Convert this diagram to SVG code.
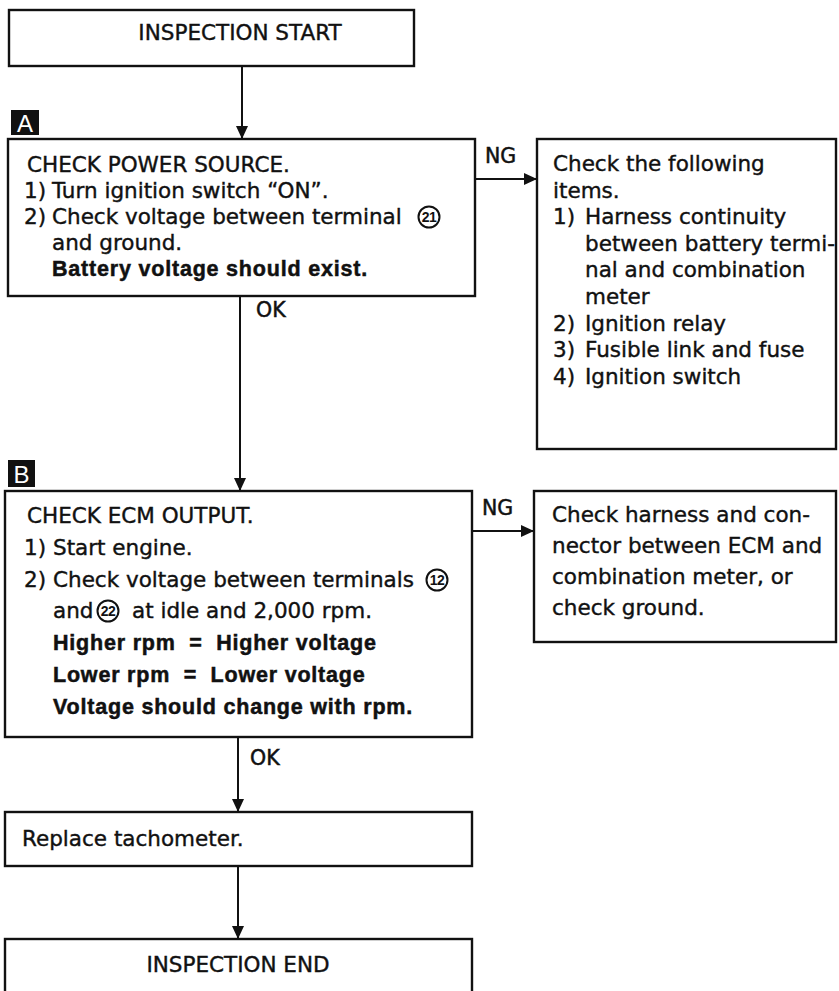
<svg xmlns="http://www.w3.org/2000/svg" width="839" height="991" viewBox="0 0 839 991">
  <style>
    .box { fill: #ffffff; stroke: #111; stroke-width: 2.4; }
    .t { font-family: "DejaVu Sans", "Liberation Sans", sans-serif; font-size: 21.5px; fill: #111; stroke: #111; stroke-width: 0.4; }
    .b { font-family: "Liberation Sans", Arial, sans-serif; font-size: 21.5px; font-weight: bold; fill: #111; stroke: #111; stroke-width: 0.5; letter-spacing: 0.8px; white-space: pre; }
    .lbl { font-family: "DejaVu Sans", "Liberation Sans", sans-serif; font-size: 20.5px; fill: #111; stroke: #111; stroke-width: 0.5; }
    .tag { fill: #111; }
    .tagtxt { font-family: "Liberation Sans", Arial, sans-serif; font-size: 24px; fill: #fff; }
    .conn { stroke: #111; stroke-width: 2; fill: none; }
    .circ { fill: none; stroke: #111; stroke-width: 2; }
    .num { font-family: "Liberation Sans", Arial, sans-serif; font-size: 14px; font-weight: bold; fill: #111; letter-spacing: -0.5px; }
  </style>
  <defs>
    <marker id="arrow" viewBox="0 0 13 12" refX="13" refY="6" markerWidth="13" markerHeight="12" markerUnits="userSpaceOnUse" orient="auto">
      <path d="M0,0 L13,6 L0,12 Z" fill="#111"/>
    </marker>
  </defs>
  <rect width="839" height="991" fill="#ffffff"/>

  <!-- connectors -->
  <g id="connectors">
    <line class="conn" x1="242" y1="66" x2="242" y2="139" marker-end="url(#arrow)"/>
    <line class="conn" x1="240" y1="296" x2="240" y2="491" marker-end="url(#arrow)"/>
    <line class="conn" x1="475" y1="179" x2="537" y2="179" marker-end="url(#arrow)"/>
    <line class="conn" x1="472" y1="531" x2="534" y2="531" marker-end="url(#arrow)"/>
    <line class="conn" x1="238" y1="737" x2="238" y2="812" marker-end="url(#arrow)"/>
    <line class="conn" x1="238" y1="866" x2="238" y2="939" marker-end="url(#arrow)"/>
    <text class="lbl" x="485" y="163">NG</text>
    <text class="lbl" x="256" y="317">OK</text>
    <text class="lbl" x="482" y="515">NG</text>
    <text class="lbl" x="250" y="765">OK</text>
  </g>

  <!-- start -->
  <g id="start">
    <rect class="box" x="9" y="10" width="405" height="56"/>
    <text class="t" x="240" y="40" text-anchor="middle">INSPECTION START</text>
  </g>

  <!-- step A: power source -->
  <g id="stepA">
    <rect class="tag" x="11" y="110" width="28" height="25"/>
    <text class="tagtxt" x="25" y="132" text-anchor="middle">A</text>
    <rect class="box" x="8" y="139" width="467" height="157"/>
    <text class="t" x="27" y="172">CHECK POWER SOURCE.</text>
    <text class="t" x="24" y="198">1)</text>
    <text class="t" x="52" y="198">Turn ignition switch “ON”.</text>
    <text class="t" x="24" y="224">2)</text>
    <text class="t" x="52" y="224">Check voltage between terminal</text>
    <circle class="circ" cx="429" cy="217" r="10.5"/>
    <text class="num" x="429" y="222" text-anchor="middle">21</text>
    <text class="t" x="52" y="250">and ground.</text>
    <text class="b" x="52" y="276">Battery voltage should exist.</text>
  </g>

  <!-- remedy for A -->
  <g id="remedyA">
    <rect class="box" x="537" y="139" width="299" height="310"/>
    <text class="t" x="553" y="171">Check the following</text>
    <text class="t" x="553" y="198">items.</text>
    <text class="t" x="553" y="224">1)</text>
    <text class="t" x="585" y="224">Harness continuity</text>
    <text class="t" x="585" y="251">between battery termi-</text>
    <text class="t" x="585" y="277">nal and combination</text>
    <text class="t" x="585" y="304">meter</text>
    <text class="t" x="553" y="331">2)</text>
    <text class="t" x="585" y="331">Ignition relay</text>
    <text class="t" x="553" y="357">3)</text>
    <text class="t" x="585" y="357">Fusible link and fuse</text>
    <text class="t" x="553" y="384">4)</text>
    <text class="t" x="585" y="384">Ignition switch</text>
  </g>

  <!-- step B: ECM output -->
  <g id="stepB">
    <rect class="tag" x="8" y="460" width="27" height="27"/>
    <text class="tagtxt" x="21.5" y="483" text-anchor="middle">B</text>
    <rect class="box" x="5" y="491" width="467" height="246"/>
    <text class="t" x="27" y="523">CHECK ECM OUTPUT.</text>
    <text class="t" x="24" y="555">1)</text>
    <text class="t" x="53" y="555">Start engine.</text>
    <text class="t" x="24" y="587">2)</text>
    <text class="t" x="53" y="587">Check voltage between terminals</text>
    <circle class="circ" cx="437" cy="580" r="10.5"/>
    <text class="num" x="437" y="585" text-anchor="middle">12</text>
    <text class="t" x="53" y="618">and</text>
    <circle class="circ" cx="108" cy="611" r="10.5"/>
    <text class="num" x="108" y="616" text-anchor="middle">22</text>
    <text class="t" x="132" y="618">at idle and 2,000 rpm.</text>
    <text class="b" x="53" y="650">Higher rpm  =  Higher voltage</text>
    <text class="b" x="53" y="682">Lower rpm  =  Lower voltage</text>
    <text class="b" x="53" y="714">Voltage should change with rpm.</text>
  </g>

  <!-- remedy for B -->
  <g id="remedyB">
    <rect class="box" x="534" y="491" width="302" height="151"/>
    <text class="t" x="552" y="522">Check harness and con-</text>
    <text class="t" x="552" y="553">nector between ECM and</text>
    <text class="t" x="552" y="584">combination meter, or</text>
    <text class="t" x="552" y="615">check ground.</text>
  </g>

  <!-- replace -->
  <g id="replace">
    <rect class="box" x="5" y="812" width="467" height="54"/>
    <text class="t" x="22" y="846">Replace tachometer.</text>
  </g>

  <!-- end -->
  <g id="end">
    <rect class="box" x="5" y="939" width="467" height="60"/>
    <text class="t" x="238" y="972" text-anchor="middle">INSPECTION END</text>
  </g>
</svg>
